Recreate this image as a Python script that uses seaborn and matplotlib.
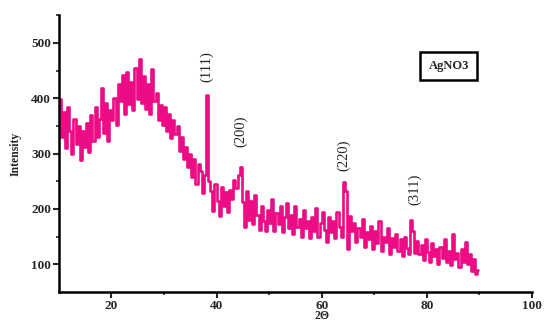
import numpy as np
import pandas as pd
import matplotlib
matplotlib.use("Agg")
import matplotlib.pyplot as plt
import seaborn as sns

# 2-theta positions (start, step, count)
two_theta_start = 10.2
two_theta_step = 0.4
intensity = [
    398, 330, 375, 310, 385, 340, 300, 362, 318, 350,
    288, 340, 312, 355, 302, 370, 322, 384, 330, 362,
    418, 338, 392, 322, 378, 360, 400, 352, 425, 395,
    442, 372, 448, 390, 430, 378, 455, 398, 471, 392,
    440, 380, 425, 372, 453, 395, 410, 360, 388, 352,
    385, 340, 372, 328, 360, 335, 350, 305, 330, 290,
    312, 275, 300, 258, 290, 245, 282, 268, 228, 262,
    405, 250, 232, 196, 245, 215, 188, 240, 205, 230,
    195, 235, 218, 252, 238, 262, 275, 212, 168, 232,
    180, 215, 172, 225, 190, 162, 205, 178, 160, 198,
    175, 218, 160, 192, 172, 205, 158, 185, 210, 165,
    190, 155, 205, 168, 182, 150, 198, 165, 178, 148,
    185, 160, 202, 150, 175, 195, 162, 140, 185, 158,
    178, 148, 195, 168, 150, 248, 232, 128, 188, 160,
    175, 140, 165, 150, 182, 132, 158, 145, 170, 128,
    160, 138, 178, 125, 150, 140, 165, 118, 148, 132,
    155, 125, 145, 115, 150, 130, 118, 181, 160, 120,
    142, 118, 135, 108, 145, 122, 105, 138, 115, 128,
    100, 132, 112, 145, 105, 125, 98, 155, 110, 120,
    95, 128, 105, 140, 100, 118, 88, 110, 82, 90,
]
two_theta = [round(two_theta_start + i * two_theta_step, 2) for i in range(len(intensity))]

peak_labels = ["(111)", "(200)", "(220)", "(311)"]
peak_label_x = [38.2, 44.5, 64.2, 77.6]
peak_label_y = [458, 340, 297, 236]

x_ticks = [20, 40, 60, 80, 100]
y_ticks = [100, 200, 300, 400, 500]
sample_name = "AgNO3"

sns.set_style("ticks")
plt.rcParams["font.family"] = ["Liberation Serif", "DejaVu Serif"]

df = pd.DataFrame({"2θ": two_theta, "Intensity": intensity})

fig = plt.figure(figsize=(5.44, 3.22), dpi=100)
ax = fig.add_axes([0.108, 0.093, 0.870, 0.860])
sns.lineplot(data=df, x="2θ", y="Intensity", ax=ax, color="#EC0C85",
             linewidth=1.9, drawstyle="steps-mid")

ax.set_xlim(10, 100)
ax.set_ylim(50, 550)
ax.set_xticks(x_ticks)
ax.set_yticks(y_ticks)
ax.set_xticks([30, 50, 70, 90], minor=True)
ax.set_yticks([150, 250, 350, 450, 550], minor=True)
for lab in ax.get_xticklabels() + ax.get_yticklabels():
    lab.set_fontweight("bold")
    lab.set_fontsize(9.5)
ax.tick_params(axis="both", which="major", direction="out", length=4, width=1.5, pad=1.5)
ax.tick_params(axis="both", which="minor", direction="out", length=2.5, width=1.2)

sns.despine(ax=ax)
for side in ["left", "bottom"]:
    ax.spines[side].set_linewidth(1.8)
    ax.spines[side].set_color("black")

ax.set_xlabel("2Θ", fontsize=8.5, fontweight="bold")
ax.xaxis.set_label_coords(0.556, -0.066)
ax.set_ylabel("Intensity", fontsize=8.5, fontweight="bold")
ax.yaxis.set_label_coords(-0.078, 0.5)

for lab, lx, ly in zip(peak_labels, peak_label_x, peak_label_y):
    ax.text(lx, ly, lab, rotation=90, ha="center", va="center", fontsize=10.5)

ax.text(0.824, 0.816, sample_name, transform=ax.transAxes, ha="center", va="center",
        fontsize=9, fontweight="bold",
        bbox=dict(boxstyle="square,pad=0.65", facecolor="white", edgecolor="black", linewidth=1.8))

fig.savefig("out.png", dpi=100)
